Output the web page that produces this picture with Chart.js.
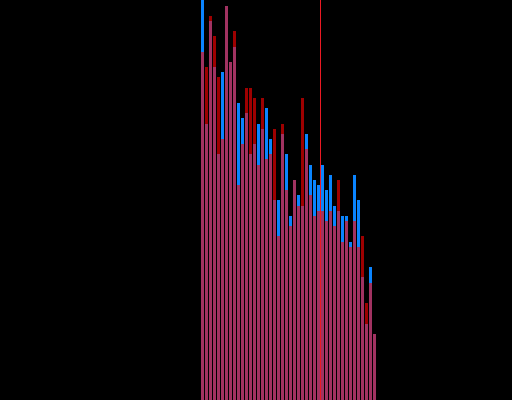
<!DOCTYPE html>
<html>
<head>
<meta charset="utf-8">
<script src="https://cdn.jsdelivr.net/npm/chart.js@4.4.1/dist/chart.umd.min.js"></script>
<style>
    html, body { margin: 0; padding: 0; background: #000; }
    #wrap { width: 512px; height: 400px; }
</style>
</head>
<body>
<div id="wrap"><canvas id="chart" width="512" height="400"></canvas></div>
<script>
// bins (x values of the bars)
const bins = [0, 1, 2, 3, 4, 5, 6, 7, 8, 9, 10, 11, 12, 13, 14, 15, 16, 17, 18, 19, 20, 21,
              22, 23, 24, 25, 26, 27, 28, 29, 30, 31, 32, 33, 34, 35, 36, 37, 38, 39, 40, 41, 42, 43];

// serie azul (opaca, dibujada debajo)
const blueValues = [100, 69, 94.75, 83.25, 61.5, 82, 98.5, 84.5, 88.25, 74.25, 70.5,
                    71.75, 61.5, 64, 69, 67.75, 73, 65.25, 50, 50, 66.5, 61.5,
                    46, 55, 51.25, 48.5, 66.5, 58.75, 55, 53.75, 58.75, 52.5, 56.25,
                    48.5, 47.25, 46, 46, 39.5, 56.25, 50, 30.75, 19, 33.25, 16.5];

// serie roja (semitransparente, dibujada encima)
const redValues = [87, 83.25, 96, 91, 80.75, 65.25, 98.5, 84.5, 92.25, 53.75, 64,
                   78, 78, 75.5, 58.75, 75.5, 60.25, 61.5, 67.75, 41, 69, 52.5,
                   43.5, 55, 48.5, 75.5, 62.75, 51.25, 46, 47.25, 47.25, 44.75, 47.25,
                   43.5, 55, 39.5, 44.75, 38.25, 44.75, 38.25, 41, 24.25, 29.25, 16.5];

// linea vertical de referencia
const markerValue = 29.5;

const markerLine = {
    id: 'markerLine',
    afterDatasetsDraw(chart) {
        const x = chart.scales.x.getPixelForValue(markerValue);
        const area = chart.chartArea;
        const ctx = chart.ctx;
        ctx.save();
        ctx.strokeStyle = 'rgb(235, 25, 35)';
        ctx.lineWidth = 1;
        ctx.beginPath();
        ctx.moveTo(x, area.top);
        ctx.lineTo(x, area.bottom);
        ctx.stroke();
        ctx.restore();
    }
};

const ctx = document.getElementById('chart').getContext('2d');
new Chart(ctx, {
    type: 'bar',
    data: {
        datasets: [
            {
                label: 'rojo',
                data: bins.map((b, i) => ({ x: b, y: redValues[i] })),
                backgroundColor: 'rgba(255, 0, 0, 0.62)',
                borderWidth: 0,
                grouped: false,
                order: 0,
                barPercentage: 0.75,
                categoryPercentage: 1
            },
            {
                label: 'azul',
                data: bins.map((b, i) => ({ x: b, y: blueValues[i] })),
                backgroundColor: 'rgb(10, 132, 255)',
                borderWidth: 0,
                grouped: false,
                order: 1,
                barPercentage: 0.75,
                categoryPercentage: 1
            }
        ]
    },
    options: {
        responsive: false,
        animation: false,
        layout: { padding: 0 },
        plugins: {
            legend: { display: false },
            tooltip: { enabled: false }
        },
        scales: {
            x: {
                type: 'linear',
                display: false,
                offset: false,
                bounds: 'ticks',
                min: -50.625,
                max: 77.375
            },
            y: {
                display: false,
                min: 0,
                max: 100
            }
        }
    },
    plugins: [markerLine]
});
</script>
</body>
</html>
